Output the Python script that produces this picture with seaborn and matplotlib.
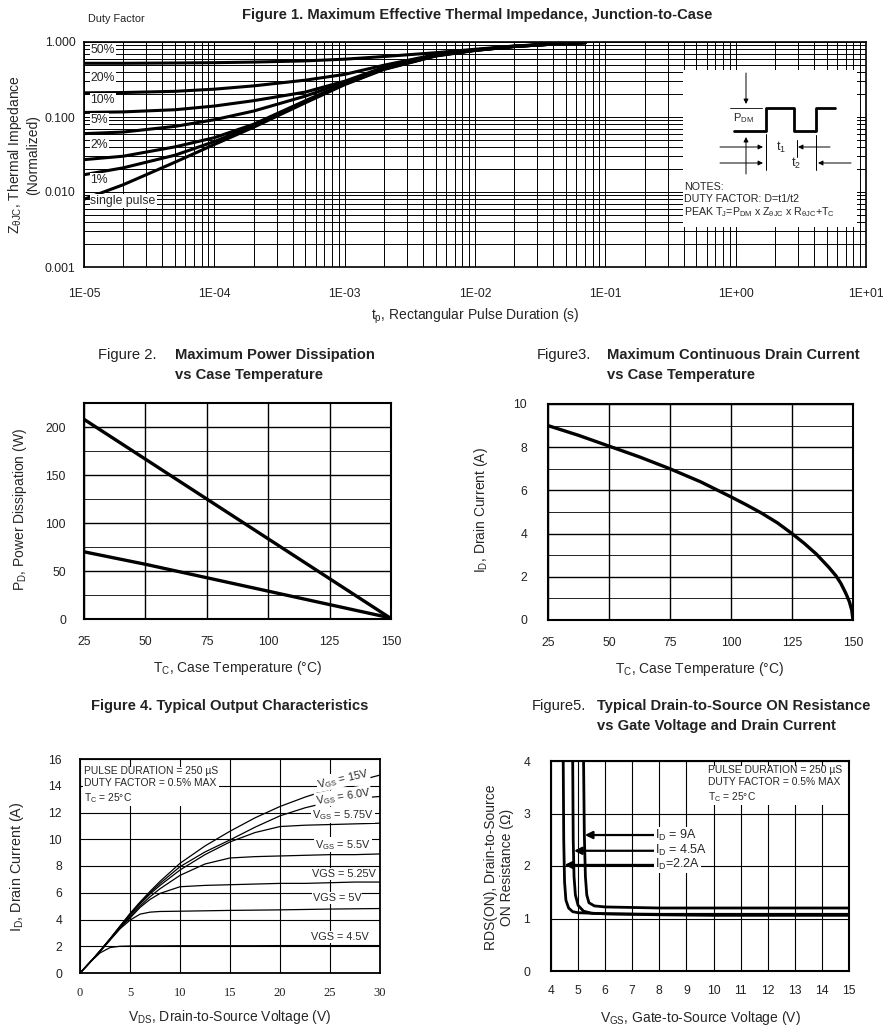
import pandas as pd
import seaborn as sns
import matplotlib.pyplot as plt
from matplotlib.ticker import MultipleLocator, FixedLocator, NullFormatter, LogLocator

# figure 1: normalized transient thermal impedance vs pulse width
tp = [1e-5, 2e-5, 5e-5, 1e-4, 2e-4, 5e-4, 1e-3, 2e-3, 5e-3, 1e-2, 2e-2, 5e-2, 7e-2]
z_50 = [0.52, 0.52, 0.525, 0.53, 0.54, 0.56, 0.59, 0.64, 0.72, 0.80, 0.885, 0.96, 0.98]
z_20 = [0.21, 0.212, 0.22, 0.235, 0.26, 0.31, 0.37, 0.49, 0.68, 0.785, 0.88, 0.96, 0.98]
z_10 = [0.115, 0.117, 0.125, 0.14, 0.165, 0.215, 0.30, 0.46, 0.67, 0.78, 0.875, 0.96, 0.98]
z_5 = [0.060, 0.063, 0.075, 0.092, 0.12, 0.19, 0.29, 0.45, 0.665, 0.78, 0.875, 0.96, 0.98]
z_2 = [0.027, 0.030, 0.040, 0.053, 0.080, 0.165, 0.28, 0.44, 0.66, 0.775, 0.87, 0.96, 0.98]
z_1 = [0.017, 0.021, 0.031, 0.047, 0.077, 0.16, 0.275, 0.435, 0.655, 0.775, 0.87, 0.96, 0.98]
z_single = [0.008, 0.0125, 0.025, 0.043, 0.073, 0.155, 0.27, 0.43, 0.65, 0.77, 0.87, 0.96, 0.98]
duty_labels = ["50%", "20%", "10%", "5%", "2%", "1%", "single pulse"]
duty_label_y = [0.78, 0.33, 0.17, 0.091, 0.042, 0.0144, 0.0076]

# figure 2: power dissipation derating
tc2 = [25, 50, 75, 100, 125, 150]
pd_high = [208, 166.5, 125, 83.5, 42, 0.5]
pd_low = [70, 57, 43, 29, 15, 1]

# figure 3: drain current derating
tc3 = [25, 37.5, 50, 62.5, 75, 87.5, 100, 106, 112.5, 119, 125, 130, 135, 140, 143, 145, 147, 148.5,
       149.5, 150]
id3 = [9.0, 8.55, 8.05, 7.55, 7.0, 6.4, 5.7, 5.35, 4.95, 4.5, 4.0, 3.55, 3.05, 2.45, 2.05, 1.7, 1.25,
       0.85, 0.45, 0.0]

# figure 4: output characteristics
vds = [0, 1, 2, 3, 4, 5, 6, 7, 8, 10, 12.5, 15, 17.5, 20, 22.5, 25, 27.5, 30]
id_15v = [0, 0.8, 1.65, 2.55, 3.5, 4.45, 5.3, 6.1, 6.85, 8.2, 9.5, 10.6, 11.6, 12.45, 13.15, 13.75, 14.3, 14.8]
id_6v = [0, 0.8, 1.65, 2.55, 3.5, 4.4, 5.25, 6.0, 6.7, 7.95, 9.05, 9.95, 10.9, 11.75, 12.35, 12.8, 13.05, 13.2]
id_575v = [0, 0.8, 1.65, 2.55, 3.45, 4.3, 5.15, 5.9, 6.55, 7.7, 8.85, 9.8, 10.5, 10.95, 11.05, 11.1, 11.15, 11.2]
id_55v = [0, 0.8, 1.65, 2.5, 3.4, 4.2, 5.0, 5.7, 6.3, 7.3, 8.15, 8.6, 8.7, 8.75, 8.8, 8.85, 8.85, 8.9]
id_525v = [0, 0.8, 1.6, 2.5, 3.35, 4.1, 4.9, 5.5, 5.95, 6.45, 6.55, 6.6, 6.65, 6.7, 6.7, 6.75, 6.8, 6.8]
id_5v = [0, 0.8, 1.6, 2.45, 3.3, 3.95, 4.4, 4.55, 4.6, 4.62, 4.65, 4.68, 4.7, 4.72, 4.75, 4.78, 4.8, 4.82]
id_45v = [0, 0.8, 1.5, 1.9, 2.0, 2.02, 2.03, 2.03, 2.03, 2.04, 2.04, 2.04, 2.04, 2.05, 2.05, 2.05, 2.05, 2.05]
vgs_labels = ["V$_{GS}$ = 15V", "V$_{GS}$ = 6.0V", "V$_{GS}$ = 5.75V", "V$_{GS}$ = 5.5V",
              "VGS = 5.25V", "VGS = 5V", "VGS = 4.5V"]
vgs_label_xy = [(26.3, 14.5), (26.3, 13.2), (26.3, 11.8), (26.3, 9.6), (26.4, 7.4), (25.7, 5.6), (26.0, 2.7)]
vgs_label_rot = [13, 9, 0, 0, 0, 0, 0]

# figure 5: rds(on) vs vgs
vgs_22 = [4.45, 4.47, 4.50, 4.55, 4.65, 4.8, 5.0, 6, 8, 10, 15]
rds_22 = [4.1, 2.5, 1.7, 1.35, 1.2, 1.13, 1.11, 1.09, 1.07, 1.06, 1.06]
vgs_45 = [4.8, 4.82, 4.85, 4.9, 5.0, 5.2, 5.5, 6, 8, 10, 15]
rds_45 = [4.1, 2.5, 1.8, 1.45, 1.25, 1.14, 1.1, 1.09, 1.08, 1.08, 1.08]
vgs_9 = [5.2, 5.23, 5.27, 5.32, 5.4, 5.6, 6, 7, 8, 10, 15]
rds_9 = [4.1, 2.6, 1.8, 1.45, 1.3, 1.24, 1.22, 1.21, 1.2, 1.2, 1.2]
id_labels = ["I$_D$ = 9A", "I$_D$ = 4.5A", "I$_D$=2.2A"]
id_label_y = [2.59, 2.29, 2.02]
id_arrow_x = [5.25, 4.85, 4.5]

sns.set_theme(style="white")
plt.rcParams["font.family"] = ["Liberation Sans", "DejaVu Sans"]
plt.rcParams["mathtext.fontset"] = "custom"
plt.rcParams["mathtext.rm"] = "Liberation Sans"
plt.rcParams["mathtext.default"] = "regular"

W, H = 892, 1029
fig = plt.figure(figsize=(W / 100, H / 100), dpi=100)
TITLE = 10.6
LABEL = 10


def px_axes(l, t, r, b):
    return fig.add_axes([l / W, 1 - b / H, (r - l) / W, (b - t) / H])


def ftext(x, y, s, **kw):
    fig.text(x / W, 1 - y / H, s, **kw)


def style(ax, lw=1.4, pad=10):
    for s in ax.spines.values():
        s.set_visible(True)
        s.set_color("black")
        s.set_linewidth(lw)
    ax.tick_params(which="both", length=0, labelsize=8.7, pad=pad, colors="#222222")
    ax.set_xlabel("")
    ax.set_ylabel("")


white_box = dict(facecolor="white", edgecolor="none", pad=0.6)

# ---------------- figure 1 ----------------
ax1 = px_axes(84, 42, 866, 267)
f1 = pd.DataFrame({
    "tp": tp * 7,
    "z": z_50 + z_20 + z_10 + z_5 + z_2 + z_1 + z_single,
    "duty": sum([[d] * len(tp) for d in duty_labels], []),
})
sns.lineplot(data=f1, x="tp", y="z", hue="duty", palette=["black"] * 7, legend=False,
             estimator=None, sort=False, lw=2.2, ax=ax1)
ax1.set_xscale("log")
ax1.set_yscale("log")
ax1.set_xlim(1e-5, 10)
ax1.set_ylim(1e-3, 1)
ax1.xaxis.set_major_locator(FixedLocator([1e-5, 1e-4, 1e-3, 1e-2, 1e-1, 1, 10]))
ax1.set_xticklabels(["1E-05", "1E-04", "1E-03", "1E-02", "1E-01", "1E+00", "1E+01"])
ax1.yaxis.set_major_locator(FixedLocator([1e-3, 1e-2, 1e-1, 1]))
ax1.set_yticklabels(["0.001", "0.010", "0.100", "1.000"])
ax1.xaxis.set_minor_locator(LogLocator(base=10, subs=range(2, 10), numticks=20))
ax1.yaxis.set_minor_locator(LogLocator(base=10, subs=range(2, 10), numticks=20))
ax1.xaxis.set_minor_formatter(NullFormatter())
ax1.yaxis.set_minor_formatter(NullFormatter())
ax1.grid(True, which="both", color="black", lw=0.7)
style(ax1, lw=1.2)
ax1.tick_params(axis="x", pad=15)
ax1.tick_params(axis="y", pad=6)
for lbl, yv in zip(duty_labels, duty_label_y):
    ax1.text(1.12e-5, yv, lbl, fontsize=8.8, va="center", ha="left", bbox=white_box, zorder=5)

ftext(477, 15, "Figure 1. Maximum Effective Thermal Impedance, Junction-to-Case",
      fontsize=TITLE, fontweight="bold", ha="center", va="center", color="#222222")
ftext(88, 19, "Duty Factor", fontsize=7.8, ha="left", va="center", color="#222222")
ftext(475, 316, "t$_p$, Rectangular Pulse Duration (s)", fontsize=LABEL, ha="center", va="center")
ftext(23, 155, "Z$_{\\theta JC}$, Thermal Impedance\n(Normalized)", fontsize=LABEL,
      ha="center", va="center", rotation=90, linespacing=1.15)

# inset waveform diagram, drawn in pixel units
ins = px_axes(683, 70, 857, 227)
ins.set_facecolor("white")
for s in ins.spines.values():
    s.set_visible(False)
ins.set_xticks([])
ins.set_yticks([])
ins.set_xlim(683, 857)
ins.set_ylim(227, 70)
ins.plot([734, 766, 766, 794, 794, 816, 816, 835], [131, 131, 108, 108, 131, 131, 108, 108],
         color="black", lw=2)
ins.plot([730, 762], [108, 108], color="black", lw=0.6)
ins.plot([766, 766], [134, 170], color="black", lw=0.7)
ins.plot([797, 797], [140, 157], color="black", lw=0.7)
ins.plot([816, 816], [135, 170], color="black", lw=0.7)
arrow = dict(arrowstyle="-|>", color="black", lw=0.7, mutation_scale=7, shrinkA=0, shrinkB=0)
for xy, xyt in [((746, 104), (746, 73)), ((746, 137), (746, 174)),
                ((763, 147), (720, 147)), ((763, 163), (720, 163)),
                ((798, 147), (830, 147)), ((818, 163), (851, 163))]:
    ins.annotate("", xy=xy, xytext=xyt, arrowprops=arrow)
ins.text(733, 118, "P$_{DM}$", fontsize=8, va="center", ha="left")
ins.text(776, 147, "t$_1$", fontsize=9, va="center", ha="left")
ins.text(791, 163, "t$_2$", fontsize=9, va="center", ha="left")
ins.text(684, 187, "NOTES:", fontsize=7.7, va="center", ha="left")
ins.text(684, 199, "DUTY FACTOR: D=t1/t2", fontsize=7.7, va="center", ha="left")
ins.text(684, 212, "PEAK T$_J$=P$_{DM}$ x Z$_{\\theta JC}$ x R$_{\\theta JC}$+T$_C$", fontsize=7.7,
         va="center", ha="left")

# ---------------- figure 2 ----------------
ax2 = px_axes(84, 403, 391, 619)
sns.lineplot(x=tc2, y=pd_high, color="black", lw=2.4, estimator=None, sort=False, ax=ax2)
sns.lineplot(x=tc2, y=pd_low, color="black", lw=2.4, estimator=None, sort=False, ax=ax2)
ax2.set_xlim(25, 150)
ax2.set_ylim(0, 225)
ax2.xaxis.set_major_locator(MultipleLocator(25))
ax2.yaxis.set_major_locator(FixedLocator([0, 50, 100, 150, 200]))
ax2.yaxis.set_minor_locator(MultipleLocator(25))
ax2.grid(True, which="major", color="black", lw=1.0)
ax2.grid(True, which="minor", axis="y", color="black", lw=0.6)
style(ax2, lw=1.5, pad=12)
ax2.tick_params(axis="y", pad=13)
ftext(98, 355, "Figure 2.", fontsize=TITLE, ha="left", va="center", color="#222222")
ftext(175, 355, "Maximum Power Dissipation", fontsize=TITLE, fontweight="bold", ha="left",
      va="center", color="#222222")
ftext(175, 375, "vs Case Temperature", fontsize=TITLE, fontweight="bold", ha="left", va="center",
      color="#222222")
ftext(238, 668, "T$_C$, Case Temperature (°C)", fontsize=LABEL, ha="center", va="center")
ftext(20, 510, "P$_D$, Power Dissipation (W)", fontsize=LABEL, ha="center", va="center", rotation=90)

# ---------------- figure 3 ----------------
ax3 = px_axes(548, 404, 853, 620)
sns.lineplot(x=tc3, y=id3, color="black", lw=2.4, estimator=None, sort=False, ax=ax3)
ax3.set_xlim(25, 150)
ax3.set_ylim(0, 10)
ax3.xaxis.set_major_locator(MultipleLocator(25))
ax3.yaxis.set_major_locator(MultipleLocator(2))
ax3.yaxis.set_minor_locator(MultipleLocator(1))
ax3.grid(True, which="major", color="black", lw=1.0)
ax3.grid(True, which="minor", axis="y", color="black", lw=0.6)
style(ax3, lw=1.5, pad=12)
ax3.tick_params(axis="y", pad=15)
ftext(537, 355, "Figure3.", fontsize=TITLE, ha="left", va="center", color="#222222")
ftext(607, 355, "Maximum Continuous Drain Current", fontsize=TITLE, fontweight="bold", ha="left",
      va="center", color="#222222")
ftext(607, 375, "vs Case Temperature", fontsize=TITLE, fontweight="bold", ha="left", va="center",
      color="#222222")
ftext(700, 669, "T$_C$, Case Temperature (°C)", fontsize=LABEL, ha="center", va="center")
ftext(481, 510, "I$_D$, Drain Current (A)", fontsize=LABEL, ha="center", va="center", rotation=90)

# ---------------- figure 4 ----------------
ax4 = px_axes(80, 759, 380, 973)
curves4 = [id_15v, id_6v, id_575v, id_55v, id_525v, id_5v, id_45v]
f4 = pd.DataFrame({
    "vds": vds * 7,
    "id": sum(curves4, []),
    "vgs": sum([[lbl] * len(vds) for lbl in vgs_labels], []),
})
sns.lineplot(data=f4, x="vds", y="id", hue="vgs", palette=["black"] * 7, legend=False,
             estimator=None, sort=False, lw=0.9, ax=ax4)
ax4.set_xlim(0, 30)
ax4.set_ylim(0, 16)
ax4.xaxis.set_major_locator(MultipleLocator(5))
ax4.yaxis.set_major_locator(MultipleLocator(2))
ax4.grid(True, color="black", lw=0.8)
style(ax4, lw=1.3, pad=10)
ax4.tick_params(axis="y", pad=13)
for t in ax4.get_xticklabels():
    t.set_fontfamily("Liberation Serif")
    t.set_fontsize(9)
for lbl, (x, y), r in zip(vgs_labels, vgs_label_xy, vgs_label_rot):
    ax4.text(x, y, lbl, fontsize=7.8, ha="center", va="center", rotation=r, bbox=white_box, zorder=5)
ax4.text(0.4, 15.5, "PULSE DURATION = 250 \u00b5S\nDUTY FACTOR = 0.5% MAX\nT$_C$ = 25°C",
         fontsize=7.4, ha="left", va="top", linespacing=1.3, bbox=white_box, zorder=5)
ftext(230, 706, "Figure 4. Typical Output Characteristics", fontsize=TITLE, fontweight="bold",
      ha="center", va="center", color="#222222")
ftext(230, 1017, "V$_{DS}$, Drain-to-Source Voltage (V)", fontsize=LABEL, ha="center", va="center")
ftext(17, 867, "I$_D$, Drain Current (A)", fontsize=10.4, ha="center", va="center", rotation=90)

# ---------------- figure 5 ----------------
ax5 = px_axes(551, 761, 849, 971)
f5 = pd.DataFrame({
    "vgs": vgs_9 + vgs_45 + vgs_22,
    "rds": rds_9 + rds_45 + rds_22,
    "id": ["9A"] * len(vgs_9) + ["4.5A"] * len(vgs_45) + ["2.2A"] * len(vgs_22),
})
sns.lineplot(data=f5, x="vgs", y="rds", hue="id", palette=["black"] * 3, legend=False,
             estimator=None, sort=False, lw=2.0, ax=ax5)
ax5.set_xlim(4, 15)
ax5.set_ylim(0, 4)
ax5.xaxis.set_major_locator(MultipleLocator(1))
ax5.yaxis.set_major_locator(MultipleLocator(1))
ax5.grid(True, color="black", lw=0.8)
style(ax5, lw=1.5, pad=10)
ax5.tick_params(axis="y", pad=15)
for lbl, yv, xa in zip(id_labels, id_label_y, id_arrow_x):
    ax5.annotate("", xy=(xa, yv), xytext=(7.8, yv),
                 arrowprops=dict(arrowstyle="-|>", color="black", lw=1.6, mutation_scale=11,
                                 shrinkA=0, shrinkB=0), zorder=5)
    ax5.text(7.85, yv, lbl, fontsize=9, ha="left", va="center", bbox=white_box, zorder=5)
ax5.text(9.8, 3.93, "PULSE DURATION = 250 \u00b5S\nDUTY FACTOR = 0.5% MAX\nT$_C$ = 25°C",
         fontsize=7.4, ha="left", va="top", linespacing=1.3, bbox=white_box, zorder=5)
ftext(532, 706, "Figure5.", fontsize=TITLE, ha="left", va="center", color="#222222")
ftext(597, 706, "Typical Drain-to-Source ON Resistance", fontsize=TITLE, fontweight="bold",
      ha="left", va="center", color="#222222")
ftext(597, 726, "vs Gate Voltage and Drain Current", fontsize=TITLE, fontweight="bold",
      ha="left", va="center", color="#222222")
ftext(700, 1018, "V$_{GS}$, Gate-to-Source Voltage (V)", fontsize=LABEL, ha="center", va="center")
ftext(499, 867, "RDS(ON), Drain-to-Source\nON Resistance (\u03a9)", fontsize=LABEL, ha="center",
      va="center", rotation=90, linespacing=1.1)

fig.savefig("out.png", dpi=100, facecolor="white")
